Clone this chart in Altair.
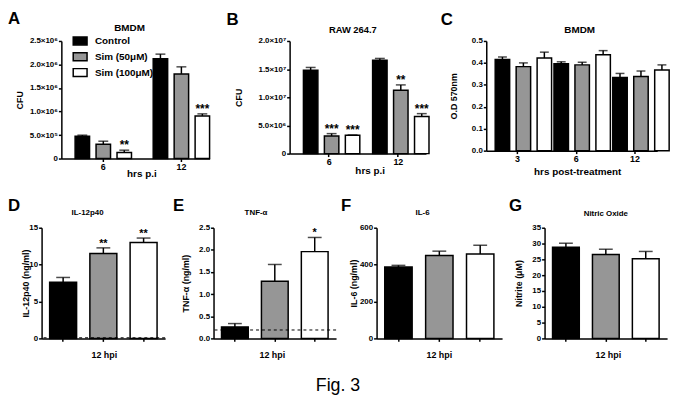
import altair as alt
import pandas as pd

FONT = "Liberation Sans"
TREAT = ["Control", "Sim (50μM)", "Sim (100μM)"]
FILLS = ["#000000", "#969696", "#ffffff"]

# ---- Panel A : CFU, BMDM ----
a_groups = ["6", "12"]
a_mean = [4.76e5, 3.06e5, 1.27e5, 2.12e6, 1.80e6, 9.06e5]
a_sem = [2.1e4, 6.3e4, 5.1e4, 1.0e5, 1.5e5, 4.4e4]
a_star = ["", "", "**", "", "", "***"]
a_ticks = [0, 5e5, 1e6, 1.5e6, 2e6, 2.5e6]
a_tick_labels = ["0", "5.0×10⁵", "1.0×10⁶", "1.5×10⁶", "2.0×10⁶", "2.5×10⁶"]

# ---- Panel B : CFU, RAW 264.7 ----
b_groups = ["6", "12"]
b_mean = [1.48e7, 3.14e6, 3.27e6, 1.66e7, 1.126e7, 6.57e6]
b_sem = [5e5, 4.1e5, 3e4, 3e5, 9.4e5, 5.3e5]
b_star = ["", "***", "***", "", "**", "***"]
b_ticks = [0, 5e6, 1e7, 1.5e7, 2e7]
b_tick_labels = ["0", "5.0×10⁶", "1.0×10⁷", "1.5×10⁷", "2.0×10⁷"]

# ---- Panel C : O.D 570nm ----
c_groups = ["3", "6", "12"]
c_mean = [0.415, 0.383, 0.422, 0.396, 0.391, 0.437, 0.334, 0.338, 0.368]
c_sem = [0.012, 0.017, 0.027, 0.009, 0.012, 0.019, 0.018, 0.025, 0.023]
c_star = [""] * 9
c_ticks = [0, 0.1, 0.2, 0.3, 0.4, 0.5]

# ---- Panels D-G : 12 hpi ----
d_mean = [7.6, 11.5, 13.0]
d_sem = [0.66, 0.77, 0.6]
d_star = ["", "**", "**"]
d_limit = 0.08
d_ticks = [0, 5, 10, 15]

e_mean = [0.26, 1.29, 1.96]
e_sem = [0.075, 0.38, 0.32]
e_star = ["", "", "*"]
e_limit = 0.19
e_ticks = [0, 0.5, 1.0, 1.5, 2.0, 2.5]

f_mean = [387, 449, 457]
f_sem = [9, 24, 48]
f_star = ["", "", ""]
f_ticks = [0, 200, 400, 600]

g_mean = [28.8, 26.5, 25.2]
g_sem = [1.3, 1.7, 2.3]
g_star = ["", "", ""]
g_ticks = [0, 5, 10, 15, 20, 25, 30, 35]


def label_expr(vals, labs):
    v = "[" + ",".join(repr(float(x)) for x in vals) + "]"
    l = "[" + ",".join("'" + s + "'" for s in labs) + "]"
    return f"{l}[indexof({v}, datum.value)]"


def text_layer(text, x, y, size, weight="bold", align="left", baseline="top"):
    return alt.Chart(pd.DataFrame({"t": [text]})).mark_text(
        align=align, baseline=baseline, fontSize=size, fontWeight=weight, font=FONT,
        color="black"
    ).encode(text="t:N", x=alt.value(x), y=alt.value(y))


def letter_layer(letter, lx, ly):
    return text_layer(letter, lx, ly, 17)


def title_layer(text, size, x, y):
    return text_layer(text, x, y, size, align="center", baseline="alphabetic")


def grouped_panel(groups, means, sems, stars, ymax, ticks, yaxis_extra, W, H,
                  xpad, offpad, cap, title, ytitle, ytitle_x, xtitle, xtitle_x, xtitle_y,
                  letter, lxy, legend=None):
    rows = []
    for gi, g in enumerate(groups):
        for ti, t in enumerate(TREAT):
            k = gi * 3 + ti
            rows.append({"time": g, "treat": t, "mean": means[k],
                         "hi": means[k] + sems[k], "star": stars[k]})
    df = pd.DataFrame(rows)
    base = alt.Chart(df).encode(
        x=alt.X("time:N", sort=groups,
                scale=alt.Scale(paddingInner=xpad[0], paddingOuter=xpad[1], align=xpad[2]),
                axis=alt.Axis(title=xtitle, labelAngle=0, labelFontSize=9, titleFontSize=10,
                              titleX=xtitle_x, titleY=xtitle_y, titleBaseline="middle",
                              titleAlign="center")),
        xOffset=alt.XOffset("treat:N", sort=TREAT,
                            scale=alt.Scale(paddingInner=offpad, paddingOuter=0)),
    )
    yscale = alt.Scale(domain=[0, ymax], nice=False, zero=True)
    yax = alt.Axis(values=ticks, title=ytitle, titleX=ytitle_x, titleY=H / 2,
                   titleAngle=270, titleBaseline="middle", titleAlign="center",
                   labelFlush=False, labelOverlap=False, **yaxis_extra)
    bars = base.mark_bar(stroke="black", strokeWidth=1.5).encode(
        y=alt.Y("mean:Q", scale=yscale, axis=yax),
        fill=alt.Fill("treat:N", sort=TREAT, scale=alt.Scale(domain=TREAT, range=FILLS),
                      legend=legend),
    )
    err = base.mark_rule(color="black", strokeWidth=1.5).encode(
        y=alt.Y("mean:Q", scale=yscale, axis=yax), y2="hi:Q")
    caps = base.mark_tick(color="black", thickness=1.5, size=cap, orient="horizontal").encode(
        y=alt.Y("hi:Q", scale=yscale, axis=yax))
    st = base.mark_text(fontSize=12, fontWeight="bold", font=FONT, baseline="alphabetic",
                        dy=-1, color="black").encode(
        y=alt.Y("hi:Q", scale=yscale, axis=yax), text="star:N")
    return alt.layer(bars, err, caps, st, title_layer(*title),
                     letter_layer(letter, *lxy)).properties(width=W, height=H)


def single_panel(means, sems, stars, ymax, ticks, fmt, W, H, title, ytitle, ytitle_x,
                 xtitle_x, letter, lxy, limit=None, extra=None):
    df = pd.DataFrame({"treat": TREAT, "mean": means,
                       "hi": [m + s for m, s in zip(means, sems)], "star": stars})
    base = alt.Chart(df).encode(
        x=alt.X("treat:N", sort=TREAT,
                scale=alt.Scale(paddingInner=0.33, paddingOuter=0.2),
                axis=alt.Axis(title="12 hpi", labels=False, titleFontSize=9,
                              titleX=xtitle_x, titleY=16, titleBaseline="middle",
                              titleAlign="center")),
    )
    yscale = alt.Scale(domain=[0, ymax], nice=False, zero=True)
    yax = alt.Axis(values=ticks, format=fmt, title=ytitle, titleX=ytitle_x,
                   titleY=H / 2, titleAngle=270, titleBaseline="middle",
                   titleAlign="center", labelFlush=False, labelOverlap=False)
    bars = base.mark_bar(stroke="black", strokeWidth=1.5).encode(
        y=alt.Y("mean:Q", scale=yscale, axis=yax),
        fill=alt.Fill("treat:N", sort=TREAT, scale=alt.Scale(domain=TREAT, range=FILLS),
                      legend=None),
    )
    err = base.mark_rule(color="black", strokeWidth=1.5).encode(
        y=alt.Y("mean:Q", scale=yscale, axis=yax), y2="hi:Q")
    caps = base.mark_tick(color="black", thickness=1.5, size=14, orient="horizontal").encode(
        y=alt.Y("hi:Q", scale=yscale, axis=yax))
    st = base.mark_text(fontSize=11, fontWeight="bold", font=FONT, baseline="alphabetic",
                        dy=-1, color="black").encode(
        y=alt.Y("hi:Q", scale=yscale, axis=yax), text="star:N")
    layers = [bars, err, caps, st]
    if limit is not None:
        layers.append(alt.Chart(pd.DataFrame({"lim": [limit]})).mark_rule(
            color="black", strokeDash=[3, 3], strokeWidth=1).encode(
            y=alt.Y("lim:Q", scale=yscale, axis=yax)))
    layers.append(title_layer(*title))
    layers.append(letter_layer(letter, *lxy))
    if extra is not None:
        layers.append(extra)
    return alt.layer(*layers).properties(width=W, height=H)


def spacer(w, h=1):
    return alt.Chart(pd.DataFrame({"v": [0]})).mark_point(opacity=0, size=1).encode(
        x=alt.value(0), y=alt.value(0)).properties(width=w, height=h)


legend_a = alt.Legend(title=None, orient="none", legendX=32, legendY=-7,
                      symbolType="M-1.167,-0.667L1.167,-0.667L1.167,0.667L-1.167,0.667Z",
                      symbolSize=144,
                      symbolStrokeColor="black", symbolStrokeWidth=1.5,
                      labelFont=FONT, labelFontSize=10, labelFontWeight="bold",
                      labelColor="black", labelOffset=8, rowPadding=0, padding=0,
                      labelLimit=200)

A = grouped_panel(a_groups, a_mean, a_sem, a_star, 2.5e6, a_ticks,
                  {"labelExpr": label_expr(a_ticks, a_tick_labels)},
                  150, 119, (0.278, 0.088, 1.0), 0.31, 10,
                  ("BMDM", 10, 69, -10), "CFU", -42, "hrs p.i", 81, 15,
                  "A", (-54, -30), legend=legend_a)
B = grouped_panel(b_groups, b_mean, b_sem, b_star, 2e7, b_ticks,
                  {"labelExpr": label_expr(b_ticks, b_tick_labels)},
                  138, 114, (0.257, 0.114, 0.875), 0.237, 10,
                  ("RAW 264.7", 9.5, 64, -8), "CFU", -52, "hrs p.i", 81, 17,
                  "B", (-64, -29))
C = grouped_panel(c_groups, c_mean, c_sem, c_star, 0.5, c_ticks,
                  {"format": ".1f"},
                  173, 111, (0.244, 0.076, 1.0), 0.273, 9,
                  ("BMDM", 10, 94.5, -8), "O.D 570nm", -33, "hrs post-treatment", 92, 21,
                  "C", (-46, -29))

fig_text = text_layer("Fig. 3", -39, 165, 18, weight="normal", align="center",
                      baseline="alphabetic")

D = single_panel(d_mean, d_sem, d_star, 15, d_ticks, "d", 125, 112,
                 ("IL-12p40", 8, 46.5, -13), "IL-12p40 (ng/ml)", -16, 63,
                 "D", (-34, -30), limit=d_limit)
E = single_panel(e_mean, e_sem, e_star, 2.5, e_ticks, ".1f", 124, 112,
                 ("TNF-α", 8, 43, -13), "TNF-α (ng/ml)", -28, 59,
                 "E", (-41, -30), limit=e_limit)
F = single_panel(f_mean, f_sem, f_star, 600, f_ticks, "d", 127, 112,
                 ("IL-6", 8, 46.5, -13), "IL-6 (ng/ml)", -23, 63,
                 "F", (-36, -30), extra=fig_text)
G = single_panel(g_mean, g_sem, g_star, 35, g_ticks, "d", 124, 112,
                 ("Nitric Oxide", 8, 62, -12), "Nitrite (μM)", -26, 64,
                 "G", (-36, -30))

row1 = alt.hconcat(spacer(20), A, spacer(81), B, spacer(61), C,
                   spacing=0, bounds="flush")
row2 = alt.hconcat(D, spacer(49), E, spacer(41), F, spacer(43), G,
                   spacing=0, bounds="flush")

chart = alt.vconcat(row1, row2, spacing=19).resolve_legend(fill="independent").properties(
    padding={"left": 0, "top": 0, "right": 5, "bottom": 5}
).configure(font=FONT).configure_view(stroke=None).configure_axis(
    domainColor="black", domainWidth=1.5, tickColor="black", tickWidth=1.5, tickSize=3,
    labelColor="black", labelFont=FONT, labelFontWeight="bold", labelFontSize=8,
    titleFont=FONT, titleFontWeight="bold", titleFontSize=9, titleColor="black",
    grid=False, labelPadding=1,
)

chart.save("out.html", embed_options={"renderer": "svg", "actions": False})
